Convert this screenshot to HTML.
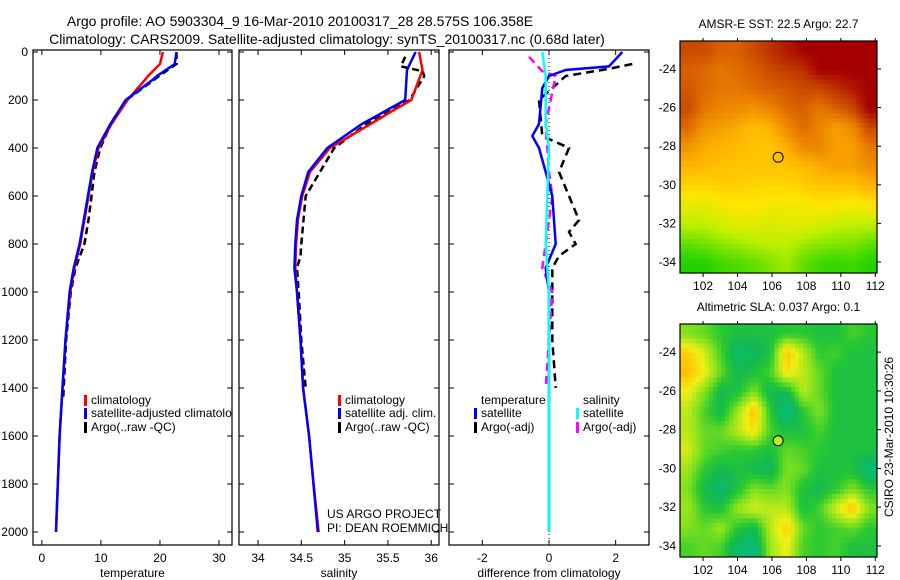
<!DOCTYPE html>
<html><head><meta charset="utf-8"><style>
body{margin:0;background:#fff}
svg{display:block;font-family:"Liberation Sans",sans-serif}
</style></head><body>
<svg id="c" width="900" height="580" viewBox="0 0 900 580">
<defs><clipPath id="p1clip"><rect x="33" y="50" width="199" height="495"/></clipPath></defs>
<text x="300" y="26" font-size="14" text-anchor="middle">Argo profile: AO 5903304_9 16-Mar-2010 20100317_28 28.575S 106.358E</text>
<text x="327" y="44" font-size="14" text-anchor="middle">Climatology: CARS2009. Satellite-adjusted climatology: synTS_20100317.nc (0.68d later)</text>
</svg>
<script>
// ---- data ----
const depthTicks=[0,200,400,600,800,1000,1200,1400,1600,1800,2000];
const tTicks=[0,10,20,30];
const sTicks=[34,34.5,35,35.5,36];
const dTicks=[-2,0,2];
const tClimDepth=[0,50,100,115,200,300,400,500,600,700,800,900,1000,1200,1400,1600,1800,2000];
const tClim=[20.5,20,18,17.5,14.5,11.8,9.6,8.6,7.9,7.2,6.5,5.5,4.8,4,3.5,3,2.7,2.4];
const tSat=[22.8,22.5,19.5,18.8,14.2,11.6,9.4,8.5,7.8,7.1,6.4,5.4,4.7,4,3.5,3,2.7,2.4];
const tArgoDepth=[0,50,80,200,300,400,500,600,700,800,900,1000,1200,1450];
const tArgo=[22.8,22.8,21,14.3,11.7,9.9,8.9,8.4,7.9,7.2,5.7,4.9,4.1,3.6];
const sClimDepth=[0,75,200,250,300,400,500,600,700,800,900,1000,1200,1400,1600,1800,2000];
const sClim=[35.86,35.9,35.77,35.53,35.3,34.83,34.6,34.51,34.46,34.44,34.43,34.45,34.49,34.52,34.59,34.64,34.7];
const sSat=[35.82,35.72,35.7,35.45,35.2,34.8,34.58,34.5,34.45,34.43,34.42,34.45,34.49,34.52,34.59,34.64,34.69];
const sArgoDepth=[20,60,80,100,200,300,400,600,800,850,900,1000,1200,1400];
const sArgo=[35.7,35.65,35.9,35.92,35.75,35.25,34.88,34.55,34.5,34.49,34.45,34.47,34.5,34.55];
const dTSatDepth=[0,30,60,75,100,150,300,350,400,500,600,800,900,1000,1400,2000];
const dTSat=[2.2,2,1.8,0.5,0,-0.2,-0.3,-0.5,-0.3,-0.1,0.1,0.2,-0.1,0,0,0];
const dTArgoDepth=[50,70,100,200,350,400,500,600,700,750,800,850,900,1000,1200,1400];
const dTArgo=[2.5,1.8,0.5,-0.3,-0.2,0.6,0.3,0.6,0.9,0.6,0.8,0.3,0.1,0.1,0.1,0.2];
const dSSatDepth=[0,100,200,300,400,600,800,1000,1400,2000];
const dSSat=[-0.2,-0.1,-0.1,-0.1,0,-0.05,-0.1,0,0,0];
const dSArgoDepth=[20,80,100,300,500,600,800,900,1000,1200,1400];
const dSArgo=[-0.6,-0.2,0.2,-0.1,0,0.1,-0.1,-0.2,0.1,0,-0.1];
const latTicks=[24,26,28,30,32,34];
const lonTicks=[102,104,106,108,110,112];
const sstGrid=[
[0.85,0.85,0.8,0.8,0.85,0.9,0.95,1,1,1,1,1],
[0.8,0.78,0.75,0.78,0.8,0.85,0.88,0.9,1,1,1,1],
[0.82,0.78,0.75,0.75,0.78,0.8,0.82,0.85,0.85,0.9,0.95,1],
[0.85,0.75,0.72,0.7,0.68,0.72,0.78,0.8,0.75,0.8,0.85,1],
[0.78,0.68,0.65,0.62,0.58,0.6,0.7,0.78,0.72,0.65,0.7,0.85],
[0.68,0.62,0.6,0.58,0.55,0.55,0.62,0.7,0.72,0.65,0.65,0.75],
[0.6,0.58,0.56,0.55,0.55,0.55,0.55,0.58,0.62,0.65,0.65,0.7],
[0.5,0.5,0.52,0.52,0.5,0.5,0.5,0.52,0.55,0.55,0.55,0.6],
[0.4,0.38,0.42,0.45,0.45,0.42,0.42,0.42,0.45,0.45,0.42,0.45],
[0.3,0.3,0.35,0.38,0.38,0.35,0.38,0.38,0.35,0.32,0.3,0.3],
[0.15,0.18,0.22,0.25,0.28,0.3,0.3,0.25,0.22,0.2,0.2,0.15],
[0.05,0.05,0.1,0.12,0.15,0.2,0.25,0.15,0.1,0.08,0.1,0.05]];
const slaGrid=[
[0.5,0.45,0.35,0.3,0.3,0.3,0.35,0.35,0.3,0.3,0.4,0.35],
[0.8,0.65,0.4,0.15,0.2,0.3,0.85,0.6,0.35,0.4,0.3,0.3],
[0.85,0.7,0.45,0.25,0.3,0.4,0.75,0.6,0.45,0.3,0.3,0.3],
[0.7,0.5,0.25,0.3,0.5,0.25,0.25,0.6,0.45,0.3,0.3,0.3],
[0.6,0.4,0.25,0.55,0.85,0.35,0.05,0.35,0.5,0.3,0.3,0.3],
[0.6,0.45,0.45,0.6,0.75,0.4,0.3,0.3,0.4,0.3,0.3,0.3],
[0.65,0.45,0.4,0.35,0.35,0.3,0.45,0.4,0.35,0.3,0.3,0.3],
[0.55,0.35,0.25,0.3,0.25,0.2,0.5,0.45,0.3,0.3,0.3,0.1],
[0.5,0.25,0.15,0.3,0.5,0.45,0.5,0.3,0.25,0.35,0.5,0.35],
[0.55,0.35,0.3,0.55,0.65,0.6,0.6,0.3,0.4,0.65,0.85,0.5],
[0.5,0.45,0.55,0.35,0.25,0.6,0.8,0.45,0.35,0.4,0.45,0.35],
[0.4,0.45,0.4,0.15,0.1,0.55,0.7,0.4,0.35,0.4,0.3,0.3]];
const argoLon=106.358, argoLat=28.575;

// ---- drawing ----
const svg=document.getElementById('c');const NS='http://www.w3.org/2000/svg';
function mk(tag,attrs,parent){const e=document.createElementNS(NS,tag);for(const k in attrs)e.setAttribute(k,attrs[k]);(parent||svg).appendChild(e);return e;}
const yTop=52,yBot=532;
const yD=d=>yTop+(yBot-yTop)*d/2000;
function panel(name,x0,x1,vmin,vmax,ticks,label,showY){
  const g=mk('g',{});
  
  
  const xs=v=>x0+(v-vmin)/(vmax-vmin)*(x1-x0);
  const fr=mk('rect',{x:x0,y:50,width:x1-x0,height:495,fill:'none',stroke:'#000','stroke-width':1.2},g);
  
  
  ticks.forEach(t=>{const x=xs(t);
    mk('line',{x1:x,x2:x,y1:545,y2:540,stroke:'#000'},g);mk('line',{x1:x,x2:x,y1:50,y2:55,stroke:'#000'},g);
    const tx=mk('text',{x:x,y:562,'font-size':12,'text-anchor':'middle'},g);tx.textContent=String(t);
    
    });
  depthTicks.forEach(d=>{const y=yD(d);
    mk('line',{x1:x0,x2:x0+5,y1:y,y2:y,stroke:'#000'},g);mk('line',{x1:x1,x2:x1-5,y1:y,y2:y,stroke:'#000'},g);
    if(showY){const tx=mk('text',{x:x0-5,y:y+4,'font-size':12,'text-anchor':'end'},g);tx.textContent=String(d);
      
      }});
  const xl=mk('text',{x:(x0+x1)/2,y:577,'font-size':12,'text-anchor':'middle'},g);xl.textContent=label;
  
  
  return xs;
}
function series(xs,depths,vals,color,dash,name,w){
  const pts=depths.map((d,i)=>xs(vals[i]).toFixed(1)+','+yD(d).toFixed(1)).join(' ');
  const p=mk('polyline',{points:pts,fill:'none',stroke:color,'stroke-width':w||2.5});
  if(dash)p.setAttribute('stroke-dasharray',dash);
  
  
}
function legend(x,y,color,text,name,clip){
  mk('rect',{x:x,y:y-9,width:3,height:11,fill:color});
  const t=mk('text',{x:x+7,y:y,'font-size':12});t.textContent=text;
  if(clip)t.setAttribute('clip-path','url(#p1clip)');
  
  
}
const xT=panel('temperature-panel',33,232,-1.5,32.2,tTicks,'temperature',true);
series(xT,tArgoDepth,tArgo,'#000','7,4','temp-argo-line');
series(xT,tClimDepth,tClim,'#f00',null,'temp-climatology-line');
series(xT,tClimDepth,tSat,'#00f',null,'temp-satellite-line');
legend(84,404,'#f00','climatology','legend-climatology');
legend(84,417,'#00f','satellite-adjusted climatology','legend-satellite',true);
legend(84,431,'#000','Argo(..raw -QC)','legend-argo');
const xS=panel('salinity-panel',239,439,33.78,36.09,sTicks,'salinity',false);
series(xS,sArgoDepth,sArgo,'#000','7,4','sal-argo-line');
series(xS,sClimDepth,sClim,'#f00',null,'sal-climatology-line');
series(xS,sClimDepth,sSat,'#00f',null,'sal-satellite-line');
legend(338,404,'#f00','climatology','legend2-climatology');
legend(338,417,'#00f','satellite adj. clim.','legend2-satellite');
legend(338,431,'#000','Argo(..raw -QC)','legend2-argo');
{const t=mk('text',{x:327,y:518,'font-size':12});t.textContent='US ARGO PROJECT';
const t2=mk('text',{x:327,y:532,'font-size':12});t2.textContent='PI: DEAN ROEMMICH';}
const xDf=panel('difference-panel',449,649,-3,3,dTicks,'difference from climatology',false);
mk('line',{x1:xDf(0),x2:xDf(0),y1:50,y2:545,stroke:'#000','stroke-dasharray':'1,3'});
series(xDf,dTArgoDepth,dTArgo,'#000','8,5','diff-temp-argo-line');
series(xDf,dSArgoDepth,dSArgo,'#f0f','8,5','diff-sal-argo-line');
series(xDf,dTSatDepth,dTSat,'#00f',null,'diff-temp-satellite-line');
series(xDf,dSSatDepth,dSSat,'#0ff',null,'diff-sal-satellite-line');
{const t=mk('text',{x:481,y:404,'font-size':12});t.textContent='temperature';
const t2=mk('text',{x:583,y:404,'font-size':12});t2.textContent='salinity';}
legend(474,417,'#00f','satellite','legend3-temp-satellite');
legend(474,431,'#000','Argo(-adj)','legend3-temp-argo');
legend(576,417,'#0ff','satellite','legend3-sal-satellite');
legend(576,431,'#f0f','Argo(-adj)','legend3-sal-argo');

// maps
function lerpColor(stops,v){v=Math.max(0,Math.min(1,v));
  for(let i=1;i<stops.length;i++){if(v<=stops[i][0]){const a=stops[i-1],b=stops[i];const f=(v-a[0])/(b[0]-a[0]);
    const c=[0,1,2].map(k=>Math.round(a[1][k]+(b[1][k]-a[1][k])*f));return 'rgb('+c.join(',')+')';}}
  return 'rgb('+stops[stops.length-1][1].join(',')+')';}
const sstStops=[[0,[0,205,0]],[0.3,[190,240,0]],[0.45,[255,230,0]],[0.6,[255,180,0]],[0.75,[230,120,0]],[0.88,[195,60,0]],[1,[165,0,0]]];
const slaStops=[[0,[0,190,150]],[0.25,[20,185,80]],[0.35,[40,200,50]],[0.5,[130,225,30]],[0.7,[240,240,20]],[0.85,[255,190,0]],[1,[240,140,0]]];
function sample(grid,fy,fx){const R=grid.length,C=grid[0].length;
  fy=Math.max(0,Math.min(R-1,fy));fx=Math.max(0,Math.min(C-1,fx));
  const r0=Math.floor(fy),c0=Math.floor(fx),r1=Math.min(R-1,r0+1),c1=Math.min(C-1,c0+1),ty=fy-r0,tx=fx-c0;
  return grid[r0][c0]*(1-ty)*(1-tx)+grid[r0][c1]*(1-ty)*tx+grid[r1][c0]*ty*(1-tx)+grid[r1][c1]*ty*tx;}
function map(name,grid,stops,x0,x1,y0,y1,latTop,latBot,lonL,lonR,title,circleFill){
  const g=mk('g',{});
  
  
  const lx=lon=>x0+(lon-lonL)/(lonR-lonL)*(x1-x0);
  const ly=lat=>y0+(lat-latTop)/(latBot-latTop)*(y1-y0);
  const R=grid.length,C=grid[0].length,S=4,cw=(x1-x0)/(C*S),ch=(y1-y0)/(R*S);
  for(let r=0;r<R*S;r++)for(let c=0;c<C*S;c++){
    const v=sample(grid,(r+0.5)/S-0.5,(c+0.5)/S-0.5);
    const cell=mk('rect',{x:(x0+c*cw).toFixed(2),y:(y0+r*ch).toFixed(2),width:(cw+0.5).toFixed(2),height:(ch+0.5).toFixed(2),fill:lerpColor(stops,v)},g);
    
    }
  mk('rect',{x:x0,y:y0,width:x1-x0,height:y1-y0,fill:'none',stroke:'#000','stroke-width':1.2},g);
  latTicks.forEach(l=>{const y=ly(l);mk('line',{x1:x1,x2:x1+4,y1:y,y2:y,stroke:'#000'},g);
    const t=mk('text',{x:x0-4,y:y+4,'font-size':12,'text-anchor':'end'},g);t.textContent='-'+l;
    
    });
  lonTicks.forEach(l=>{const x=lx(l);mk('line',{x1:x,x2:x,y1:y1,y2:y1+4,stroke:'#000'},g);mk('line',{x1:x,x2:x,y1:y0,y2:y0-3,stroke:'#000'},g);
    const t=mk('text',{x:x,y:y1+17,'font-size':12,'text-anchor':'middle'},g);t.textContent=String(l);
    
    });
  const tt=mk('text',{x:(x0+x1)/2,y:y0-13,'font-size':12,'text-anchor':'middle'},g);tt.textContent=title;
  
  
  const ci=mk('circle',{cx:lx(argoLon),cy:ly(argoLat),r:5,fill:circleFill,stroke:'#000','stroke-width':1},g);
  
  
}
map('sst-map',sstGrid,sstStops,680,877,41,273,22.55,34.57,100.66,112.1,'AMSR-E SST: 22.5 Argo: 22.7','none');
map('sla-map',slaGrid,slaStops,680,877,324,557,22.55,34.57,100.66,112.1,'Altimetric SLA: 0.037 Argo: 0.1','#b8f020');
{const t=mk('text',{x:0,y:0,'font-size':12,'text-anchor':'middle',transform:'translate(893,437) rotate(-90)'});t.textContent='CSIRO 23-Mar-2010 10:30:26';
}
</script>
</body></html>
